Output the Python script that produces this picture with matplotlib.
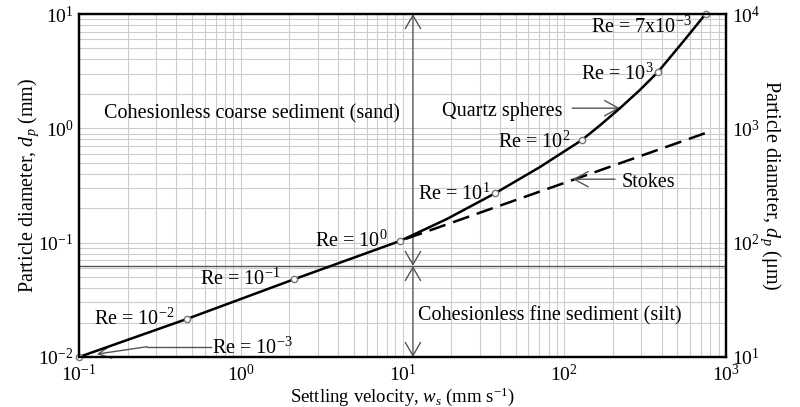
import matplotlib
matplotlib.use('Agg')
import matplotlib.pyplot as plt

plt.rcParams['font.family'] = ['Liberation Serif', 'DejaVu Serif']
plt.rcParams['mathtext.fontset'] = 'custom'
plt.rcParams['mathtext.rm'] = 'Liberation Serif'
plt.rcParams['mathtext.it'] = 'Liberation Serif:italic'
plt.rcParams['mathtext.bf'] = 'Liberation Serif:bold'

# ---------------- data ----------------
quartz_ws = [0.1, 0.464, 2.14, 9.66, 18.8, 37.3, 70.8, 128, 166, 221, 294, 381, 535, 748]
quartz_dp = [0.01, 0.0215, 0.0479, 0.1035, 0.161, 0.270, 0.459, 0.787, 1.06, 1.50, 2.17, 3.13, 5.58, 10.0]

re_ws = [0.1, 0.464, 2.14, 9.66, 37.3, 128, 381, 748]
re_dp = [0.01, 0.0215, 0.0479, 0.1035, 0.270, 0.787, 3.13, 10.0]
re_labels = ['Re = 10$^{-3}$', 'Re = 10$^{-2}$', 'Re = 10$^{-1}$', 'Re = 10$^{0}$',
             'Re = 10$^{1}$', 'Re = 10$^{2}$', 'Re = 10$^{3}$', 'Re = 7x10$^{-3}$']

stokes_ws = [10.5, 748]
stokes_dp = [0.108, 0.91]

sand_silt_dp = 0.0625
divider_ws = 11.6

x_ticks = [0.1, 1, 10, 100, 1000]
x_ticklabels = ['10$^{-1}$', '10$^{0}$', '10$^{1}$', '10$^{2}$', '10$^{3}$']
y_ticks = [0.01, 0.1, 1, 10]
y_ticklabels = ['10$^{-2}$', '10$^{-1}$', '10$^{0}$', '10$^{1}$']
y2_ticks = [10, 100, 1000, 10000]
y2_ticklabels = ['10$^{1}$', '10$^{2}$', '10$^{3}$', '10$^{4}$']

# ---------------- figure ----------------
fig = plt.figure(figsize=(8.0, 4.07), dpi=100)
ax = fig.add_axes([79/800, 50/407, 647/800, 343/407])
ax.set_xscale('log')
ax.set_yscale('log')
ax.set_xlim(0.1, 1000)
ax.set_ylim(0.01, 10)

ax.grid(True, which='both', color='#cccccc', lw=0.8)
ax.set_axisbelow(True)

gray = '#555555'
FS = 14.5
TFS = 14
LFS = 14.5

# boundaries
ax.axhline(sand_silt_dp, color=gray, lw=1.0, zorder=2)
arrow_style = '<->,head_length=0.95,head_width=0.55'
ax.annotate('', xy=(divider_ws, 10), xytext=(divider_ws, sand_silt_dp),
            arrowprops=dict(arrowstyle=arrow_style, color=gray, lw=1.0,
                            shrinkA=0, shrinkB=0, mutation_scale=10), zorder=2)
ax.annotate('', xy=(divider_ws, sand_silt_dp), xytext=(divider_ws, 0.01),
            arrowprops=dict(arrowstyle=arrow_style, color=gray, lw=1.0,
                            shrinkA=0, shrinkB=0, mutation_scale=10), zorder=2)

# curves
ax.plot(stokes_ws, stokes_dp, color='black', lw=1.8, ls=(0, (6.8, 3.2)), zorder=3)
ax.plot(quartz_ws, quartz_dp, color='black', lw=1.8, zorder=4)
ax.plot(re_ws, re_dp, ls='none', marker='o', ms=4.5, mfc='white', mec='#777777',
        mew=1.0, zorder=5, clip_on=False)

# Re labels
re_pos = [(0.664, 0.0106, 'left'), (0.386, 0.0191, 'right'), (1.75, 0.0427, 'right'),
          (8.13, 0.0923, 'right'), (34.8, 0.237, 'right'), (109, 0.678, 'right'),
          (355, 2.65, 'right'), (616, 6.79, 'right')]
for lab, (x, y, ha) in zip(re_labels, re_pos):
    ax.text(x, y, lab, ha=ha, va='baseline', fontsize=FS, zorder=6)

# Re = 10^-3 leader
ax.plot([0.655, 0.263], [0.0123, 0.0123], color=gray, lw=1.0, zorder=3)
ax.annotate('', xy=(0.129, 0.0106), xytext=(0.263, 0.0123),
            arrowprops=dict(arrowstyle='->,head_length=0.9,head_width=0.45', color=gray,
                            lw=1.0, shrinkA=0, shrinkB=0, mutation_scale=10), zorder=3)

# Quartz spheres
ax.text(96.9, 1.28, 'Quartz spheres', ha='right', va='baseline', fontsize=FS)
ax.annotate('', xy=(221, 1.50), xytext=(112, 1.50),
            arrowprops=dict(arrowstyle='->,head_length=1.0,head_width=0.55', color=gray,
                            lw=1.0, shrinkA=0, shrinkB=0, mutation_scale=10))

# Stokes
ax.text(226, 0.309, 'Stokes', ha='left', va='baseline', fontsize=FS)
ax.annotate('', xy=(113, 0.359), xytext=(206, 0.359),
            arrowprops=dict(arrowstyle='->,head_length=1.0,head_width=0.55', color=gray,
                            lw=1.0, shrinkA=0, shrinkB=0, mutation_scale=10))

# region labels
ax.text(0.143, 1.225, 'Cohesionless coarse sediment (sand)', ha='left', va='baseline', fontsize=FS)
ax.text(12.5, 0.0208, 'Cohesionless fine sediment (silt)', ha='left', va='baseline', fontsize=FS)

# ticks
ax.set_xticks(x_ticks)
ax.set_xticklabels(x_ticklabels)
ax.set_yticks(y_ticks)
ax.set_yticklabels(y_ticklabels)
ax.minorticks_on()
ax.tick_params(which='both', length=0, labelsize=TFS)
ax.tick_params(axis='x', pad=5)
ax.tick_params(axis='y', pad=4)

for s in ax.spines.values():
    s.set_linewidth(1.6)

ax.set_xlabel('Settling velocity, $w_s$ (mm s$^{-1}$)', fontsize=13.5, labelpad=0)
ax.set_ylabel('Particle diameter, $d_p$ (mm)', fontsize=LFS, labelpad=-2)

ax2 = ax.twinx()
ax2.set_yscale('log')
ax2.set_ylim(10, 10000)
ax2.set_yticks(y2_ticks)
ax2.set_yticklabels(y2_ticklabels)
ax2.tick_params(which='both', length=0, labelsize=TFS, pad=4)
ax2.yaxis.set_minor_locator(matplotlib.ticker.NullLocator())
ax2.set_ylabel('Particle diameter, $d_p$ (μm)', fontsize=LFS, rotation=270, labelpad=16)
for s in ax2.spines.values():
    s.set_linewidth(1.6)

fig.savefig('out.png', dpi=100)
